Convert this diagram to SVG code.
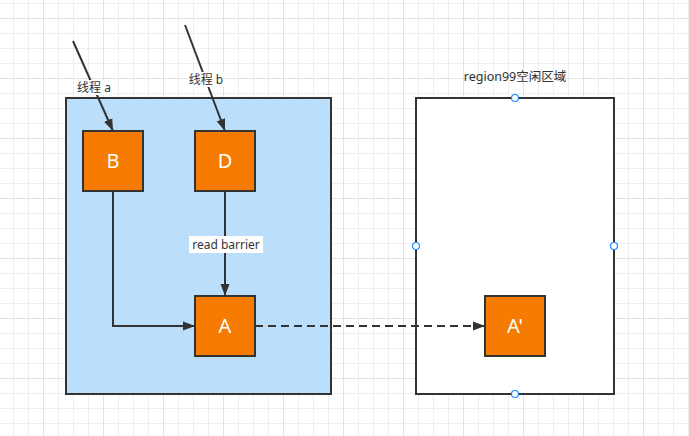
<svg xmlns="http://www.w3.org/2000/svg" width="689" height="436" viewBox="0 0 689 436">
<defs>
<pattern id="grid" x="-17" y="-42" width="60" height="60" patternUnits="userSpaceOnUse">
<path d="M15.5 0V60M30.5 0V60M45.5 0V60M0 15.5H60M0 30.5H60M0 45.5H60" stroke="#eeeeee" stroke-width="1" fill="none"/>
<path d="M0.5 0V60M0 0.5H60" stroke="#e2e2e2" stroke-width="1" fill="none"/>
</pattern>
<marker id="arr" viewBox="0 0 12 10" refX="12" refY="5" markerWidth="12" markerHeight="10" markerUnits="userSpaceOnUse" orient="auto">
<path d="M0 0.5L12 5L0 9.5Z" fill="#333333"/>
</marker>
<style>
.box{fill:#F57C00;stroke:#333333;stroke-width:2}
.big{font-family:"Noto Sans","Open Sans",sans-serif;font-size:20px;fill:#ffffff;text-anchor:middle}
.lbl{font-family:"Noto Sans","Noto Sans CJK SC",sans-serif;font-size:12px;fill:#333333;text-anchor:middle}
.edge{fill:none;stroke:#333333;stroke-width:2}
.hdl{fill:#ffffff;stroke:#1e88ff;stroke-width:1.2}
</style>
</defs>
<rect width="689" height="436" fill="#ffffff"/>
<rect width="689" height="436" fill="url(#grid)"/>
<g id="container">
<rect x="66" y="98" width="265" height="296" fill="#BBDEFB" stroke="#333333" stroke-width="2"/>
</g>
<g id="region99">
<rect x="416" y="98" width="198" height="296" fill="#ffffff" stroke="#333333" stroke-width="2"/>
<text class="lbl" x="515" y="81" font-family="Noto Sans, Noto Sans CJK SC, sans-serif" style="font-family:'Noto Sans','Noto Sans CJK SC',sans-serif;font-size:12.5px">region99空闲区域</text>
<circle class="hdl" cx="515" cy="98" r="3.5"/>
<circle class="hdl" cx="416" cy="246" r="3.5"/>
<circle class="hdl" cx="614" cy="246" r="3.5"/>
<circle class="hdl" cx="515" cy="394" r="3.5"/>
</g>
<g id="connectors">
<path class="edge" d="M73 41L113 131" marker-end="url(#arr)"/>
<path class="edge" d="M185 25L225 131" marker-end="url(#arr)"/>
<path class="edge" d="M113 191V326H195" marker-end="url(#arr)"/>
<path class="edge" d="M225 191V296" marker-end="url(#arr)"/>
<path class="edge" d="M255 326H485" stroke-dasharray="8 5" marker-end="url(#arr)"/>
<rect x="75" y="80" width="38" height="15" fill="#ffffff"/>
<text class="lbl" x="94" y="92">线程 a</text>
<rect x="187" y="72" width="38" height="15" fill="#ffffff"/>
<text class="lbl" x="206" y="84">线程 b</text>
<rect x="189" y="236" width="74" height="17" fill="#ffffff"/>
<text class="lbl" x="226" y="248.5">read barrier</text>
</g>
<g id="nodeB">
<rect class="box" x="83" y="131" width="60" height="60"/>
<text class="big" x="113" y="168">B</text>
</g>
<g id="nodeD">
<rect class="box" x="195" y="131" width="60" height="60"/>
<text class="big" x="225" y="168">D</text>
</g>
<g id="nodeA">
<rect class="box" x="195" y="296" width="60" height="60"/>
<text class="big" x="225" y="333">A</text>
</g>
<g id="nodeA2">
<rect class="box" x="485" y="296" width="60" height="60"/>
<text class="big" x="515" y="333">A'</text>
</g>
</svg>
